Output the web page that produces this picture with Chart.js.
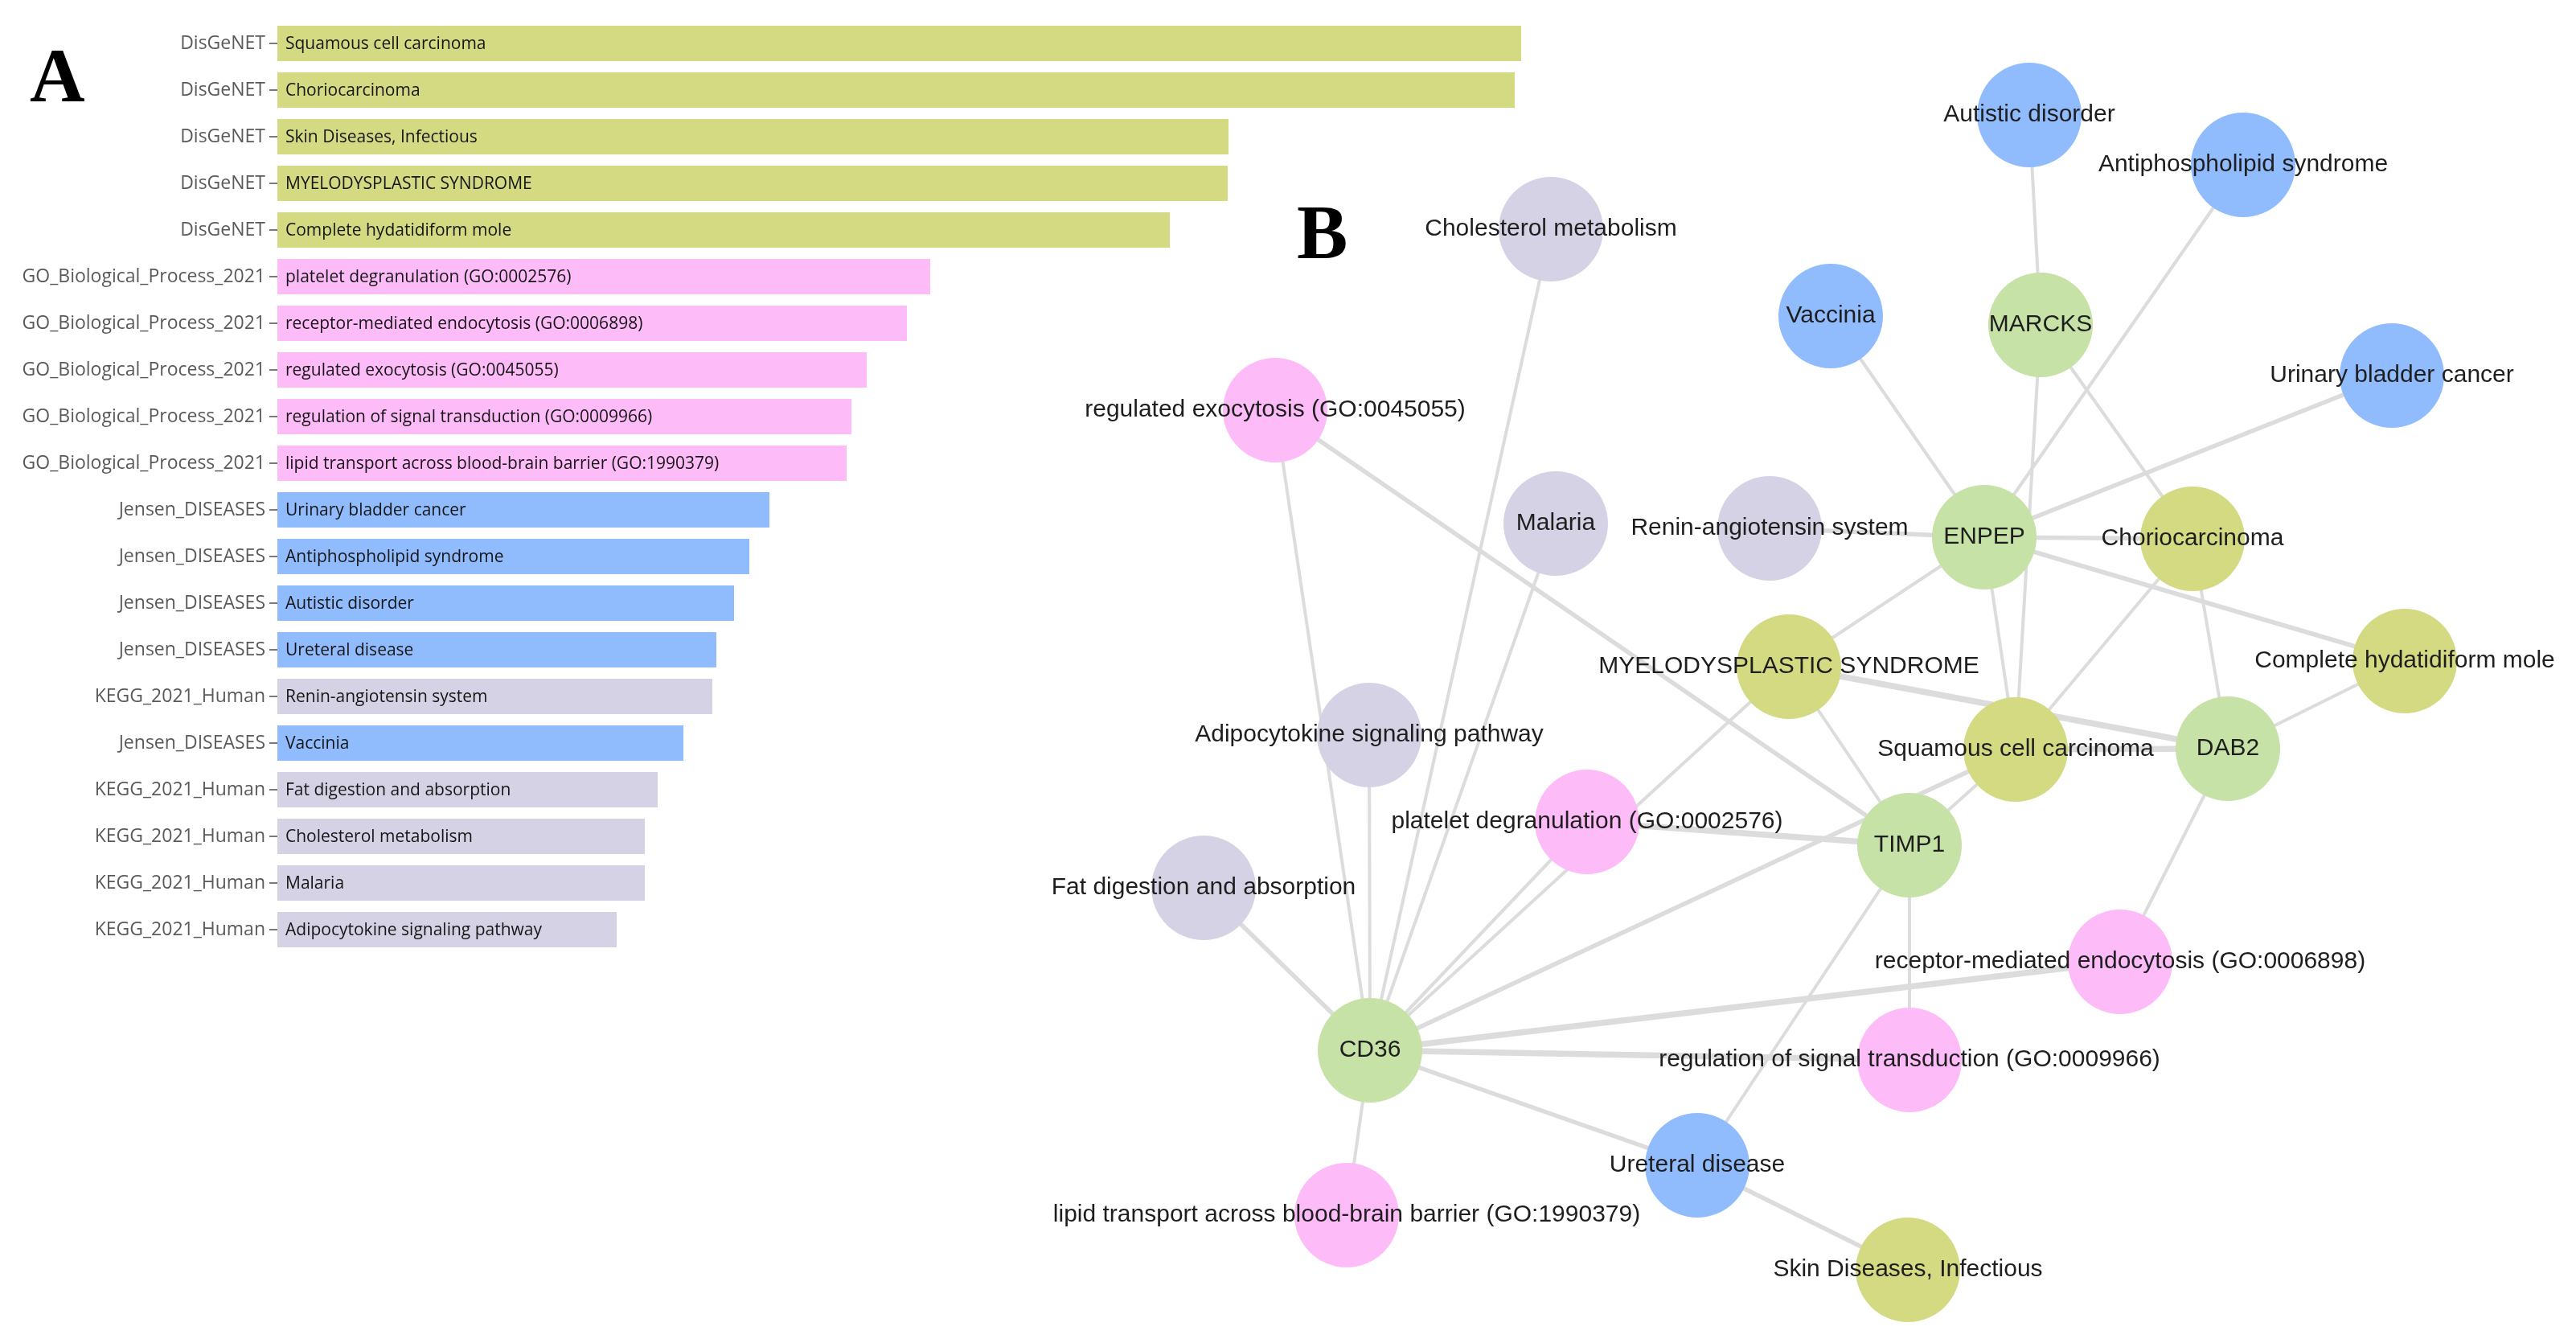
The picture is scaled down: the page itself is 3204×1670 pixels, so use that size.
<!DOCTYPE html>
<html>
<head>
<meta charset="utf-8">
<script src="https://cdn.jsdelivr.net/npm/chart.js@4.4.1/dist/chart.umd.min.js"></script>
<style>
  html, body { margin: 0; padding: 0; background: #ffffff; width: 3204px; height: 1670px; overflow: hidden; }
  #barCanvas { position: absolute; left: 0; top: 0; z-index: 1; }
  #netCanvas { position: absolute; left: 0; top: 0; z-index: 2; }
</style>
</head>
<body>
<canvas id="barCanvas" width="1945" height="1210"></canvas>
<canvas id="netCanvas" width="3204" height="1670"></canvas>
<script>
// ---------------- Panel A data ----------------
const libraries = [
  'DisGeNET', 'DisGeNET', 'DisGeNET', 'DisGeNET', 'DisGeNET',
  'GO_Biological_Process_2021', 'GO_Biological_Process_2021', 'GO_Biological_Process_2021',
  'GO_Biological_Process_2021', 'GO_Biological_Process_2021',
  'Jensen_DISEASES', 'Jensen_DISEASES', 'Jensen_DISEASES', 'Jensen_DISEASES',
  'KEGG_2021_Human', 'Jensen_DISEASES',
  'KEGG_2021_Human', 'KEGG_2021_Human', 'KEGG_2021_Human', 'KEGG_2021_Human'
];
const terms = [
  'Squamous cell carcinoma', 'Choriocarcinoma', 'Skin Diseases, Infectious',
  'MYELODYSPLASTIC SYNDROME', 'Complete hydatidiform mole',
  'platelet degranulation (GO:0002576)', 'receptor-mediated endocytosis (GO:0006898)',
  'regulated exocytosis (GO:0045055)', 'regulation of signal transduction (GO:0009966)',
  'lipid transport across blood-brain barrier (GO:1990379)',
  'Urinary bladder cancer', 'Antiphospholipid syndrome', 'Autistic disorder', 'Ureteral disease',
  'Renin-angiotensin system', 'Vaccinia',
  'Fat digestion and absorption', 'Cholesterol metabolism', 'Malaria', 'Adipocytokine signaling pathway'
];
const scores = [
  15.47, 15.39, 11.83, 11.82, 11.10,
  8.12, 7.83, 7.33, 7.14, 7.08,
  6.12, 5.87, 5.68, 5.46, 5.41, 5.05,
  4.73, 4.57, 4.57, 4.22
];
const scoreAxisMax = 16;

const libraryColors = {
  'DisGeNET': '#d3da82',
  'GO_Biological_Process_2021': '#fdbbf8',
  'Jensen_DISEASES': '#90bbfc',
  'KEGG_2021_Human': '#d6d2e5',
  'Gene': '#c6e2a6'
};

// ---------------- Panel B data ----------------
const nodeNames = [
  'Autistic disorder', 'Antiphospholipid syndrome', 'Vaccinia', 'MARCKS', 'Urinary bladder cancer',
  'Cholesterol metabolism', 'regulated exocytosis (GO:0045055)', 'Malaria', 'Renin-angiotensin system',
  'ENPEP', 'Choriocarcinoma', 'MYELODYSPLASTIC SYNDROME', 'Complete hydatidiform mole',
  'Adipocytokine signaling pathway', 'Squamous cell carcinoma', 'DAB2',
  'platelet degranulation (GO:0002576)', 'TIMP1', 'Fat digestion and absorption',
  'receptor-mediated endocytosis (GO:0006898)', 'CD36', 'regulation of signal transduction (GO:0009966)',
  'Ureteral disease', 'lipid transport across blood-brain barrier (GO:1990379)', 'Skin Diseases, Infectious'
];
const nodeGroups = [
  'Jensen_DISEASES', 'Jensen_DISEASES', 'Jensen_DISEASES', 'Gene', 'Jensen_DISEASES',
  'KEGG_2021_Human', 'GO_Biological_Process_2021', 'KEGG_2021_Human', 'KEGG_2021_Human',
  'Gene', 'DisGeNET', 'DisGeNET', 'DisGeNET',
  'KEGG_2021_Human', 'DisGeNET', 'Gene',
  'GO_Biological_Process_2021', 'Gene', 'KEGG_2021_Human',
  'GO_Biological_Process_2021', 'Gene', 'GO_Biological_Process_2021',
  'Jensen_DISEASES', 'GO_Biological_Process_2021', 'DisGeNET'
];
// layout coordinates of the network (layout space 0..3204 x 0..1670)
const nodeX = [
  2524, 2790, 2277, 2538, 2975,
  1929, 1586, 1935, 2201,
  2468, 2727, 2225, 2991,
  1703, 2507, 2771,
  1974, 2375, 1497,
  2637, 1704, 2375,
  2111, 1675, 2373
];
const nodeY = [
  143, 205, 393, 404, 467,
  285, 510, 651, 657,
  668, 670, 829, 822,
  914, 932, 931,
  1022, 1051, 1104,
  1196, 1306, 1318,
  1449, 1511, 1579
];
const edgeFrom = [
  'Autistic disorder', 'Antiphospholipid syndrome', 'Vaccinia', 'MARCKS', 'MARCKS',
  'Urinary bladder cancer', 'Renin-angiotensin system', 'ENPEP', 'ENPEP', 'ENPEP', 'ENPEP',
  'Choriocarcinoma', 'Choriocarcinoma', 'Complete hydatidiform mole', 'MYELODYSPLASTIC SYNDROME',
  'Squamous cell carcinoma', 'MYELODYSPLASTIC SYNDROME', 'regulated exocytosis (GO:0045055)',
  'platelet degranulation (GO:0002576)', 'TIMP1',
  'CD36', 'CD36', 'CD36', 'CD36', 'CD36', 'CD36', 'CD36', 'CD36', 'CD36', 'CD36', 'CD36', 'CD36',
  'TIMP1', 'TIMP1', 'Ureteral disease', 'receptor-mediated endocytosis (GO:0006898)'
];
const edgeTo = [
  'MARCKS', 'ENPEP', 'ENPEP', 'Squamous cell carcinoma', 'Choriocarcinoma',
  'ENPEP', 'ENPEP', 'Choriocarcinoma', 'Complete hydatidiform mole', 'MYELODYSPLASTIC SYNDROME', 'Squamous cell carcinoma',
  'Squamous cell carcinoma', 'DAB2', 'DAB2', 'DAB2',
  'DAB2', 'TIMP1', 'TIMP1',
  'TIMP1', 'Squamous cell carcinoma',
  'Squamous cell carcinoma', 'platelet degranulation (GO:0002576)', 'MYELODYSPLASTIC SYNDROME',
  'Cholesterol metabolism', 'Malaria', 'regulated exocytosis (GO:0045055)', 'Adipocytokine signaling pathway',
  'Fat digestion and absorption', 'receptor-mediated endocytosis (GO:0006898)',
  'regulation of signal transduction (GO:0009966)', 'Ureteral disease',
  'lipid transport across blood-brain barrier (GO:1990379)',
  'regulation of signal transduction (GO:0009966)', 'Ureteral disease', 'Skin Diseases, Infectious', 'DAB2'
];
const edgeWeight = [
  1, 1, 1, 1, 1,
  2, 2, 2, 2, 1, 1,
  1, 1, 1, 3,
  3, 1, 2,
  3, 1,
  2, 1, 1, 1, 1, 1, 1, 2, 3, 3, 2, 1,
  1, 1, 2, 1
];
const edgeWidthByWeight = { 1: 4, 2: 5.5, 3: 7.5 };

// ---------------- Panel A chart ----------------
const barTextPlugin = {
  id: 'barText',
  afterDatasetsDraw(chart) {
    const ctx = chart.ctx;
    const meta = chart.getDatasetMeta(0);
    ctx.save();
    ctx.font = '21px "Open Sans", "Noto Sans", sans-serif';
    ctx.fillStyle = '#161616';
    ctx.textAlign = 'left';
    ctx.textBaseline = 'middle';
    meta.data.forEach((el, i) => {
      ctx.fillText(terms[i], Math.min(el.base, el.x) + 10, el.y + 1);
    });
    ctx.restore();
  }
};

new Chart(document.getElementById('barCanvas'), {
  type: 'bar',
  data: {
    labels: libraries,
    datasets: [{
      data: scores,
      backgroundColor: libraries.map(l => libraryColors[l]),
      borderWidth: 0,
      barPercentage: 0.76,
      categoryPercentage: 1.0
    }]
  },
  options: {
    indexAxis: 'y',
    responsive: false,
    animation: false,
    events: [],
    layout: { autoPadding: false, padding: { top: 25, bottom: 25, left: 0, right: 0 } },
    plugins: { legend: { display: false }, tooltip: { enabled: false } },
    scales: {
      x: { display: false, min: 0, max: scoreAxisMax },
      y: {
        afterFit(s) { s.width = 345; },
        border: { display: false },
        grid: { offset: false, drawOnChartArea: false, drawTicks: true, tickLength: 10, color: '#7a7a7a', lineWidth: 2 },
        ticks: {
          color: '#5a5a5a',
          padding: 5,
          autoSkip: false,
          font: { family: '"Open Sans", "Noto Sans", sans-serif', size: 23 }
        }
      }
    }
  },
  plugins: [barTextPlugin]
});

// ---------------- Panel B chart ----------------
const idx = name => nodeNames.indexOf(name);

const edgeDatasets = edgeFrom.map((f, i) => {
  const a = idx(f), b = idx(edgeTo[i]);
  return {
    type: 'scatter',
    data: [{ x: nodeX[a], y: nodeY[a] }, { x: nodeX[b], y: nodeY[b] }],
    showLine: true,
    borderColor: '#dcdcdc',
    borderWidth: edgeWidthByWeight[edgeWeight[i]],
    pointRadius: 0,
    order: 2,
    clip: false
  };
});

const nodeDataset = {
  type: 'scatter',
  data: nodeNames.map((n, i) => ({ x: nodeX[i], y: nodeY[i] })),
  pointRadius: 65,
  pointHoverRadius: 65,
  pointBackgroundColor: nodeGroups.map(g => libraryColors[g]),
  pointBorderWidth: 0,
  borderWidth: 0,
  order: 1,
  clip: false
};

const netLabelPlugin = {
  id: 'netLabels',
  afterDatasetsDraw(chart) {
    const ctx = chart.ctx;
    const meta = chart.getDatasetMeta(0);
    ctx.save();
    ctx.font = '30px "Liberation Sans", Arial, sans-serif';
    ctx.fillStyle = '#1e1e1e';
    ctx.textAlign = 'center';
    ctx.textBaseline = 'middle';
    meta.data.forEach((el, i) => {
      ctx.fillText(nodeNames[i], el.x, el.y);
    });
    ctx.restore();
  },
  afterDraw(chart) {
    const ctx = chart.ctx;
    ctx.save();
    ctx.font = 'bold 95px "Liberation Serif", "Times New Roman", serif';
    ctx.fillStyle = '#000000';
    ctx.textAlign = 'left';
    ctx.textBaseline = 'alphabetic';
    ctx.fillText('A', 37, 126);
    ctx.fillText('B', 1613, 321);
    ctx.restore();
  }
};

new Chart(document.getElementById('netCanvas'), {
  type: 'scatter',
  data: { datasets: [nodeDataset, ...edgeDatasets] },
  options: {
    responsive: false,
    animation: false,
    events: [],
    layout: { autoPadding: false, padding: 0 },
    plugins: { legend: { display: false }, tooltip: { enabled: false } },
    scales: {
      x: { type: 'linear', display: false, min: 0, max: 3204 },
      y: { type: 'linear', display: false, min: 0, max: 1670, reverse: true }
    }
  },
  plugins: [netLabelPlugin]
});
</script>
</body>
</html>
